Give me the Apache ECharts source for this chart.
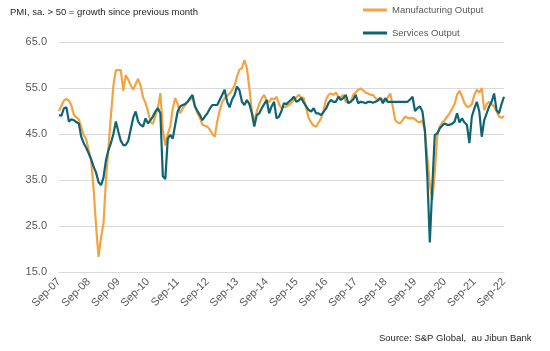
<!DOCTYPE html>
<html>
<head>
<meta charset="utf-8">
<script src="https://cdn.jsdelivr.net/npm/echarts@6/dist/echarts.min.js"></script>
<style>
  html, body { margin: 0; padding: 0; background: #fff; }
  #pmi { width: 550px; height: 351px; }
</style>
</head>
<body>
<div id="pmi"></div>
<script>
// monthly, Sep-07 .. Sep-22
const months = ["Jan", "Feb", "Mar", "Apr", "May", "Jun", "Jul", "Aug", "Sep", "Oct", "Nov", "Dec"];
const categories = [];
for (let k = 0; k < 181; k++) {
  const m = (8 + k) % 12;
  const y = 7 + Math.floor((8 + k) / 12);
  categories.push(months[m] + "-" + String(y).padStart(2, "0"));
}

const yTicks = [15, 25, 35, 45, 55, 65];

const manufacturing = [
  50.0, 51.2, 52.3, 52.6, 52.3, 51.2, 49.2, 48.6, 48.2, 46.5, 44.8, 43.8,
  41.5, 39.3, 33.0, 25.0, 18.3, 22.5, 25.6, 35.0, 42.0, 49.0, 55.5, 58.9,
  58.9, 58.9, 54.4, 57.8, 56.8, 55.6, 54.6, 55.8, 57.0, 55.5, 53.0, 51.7,
  50.0, 47.6, 47.2, 49.0, 50.6, 53.9, 46.0, 42.5, 45.0, 46.6, 50.5, 52.8,
  51.5, 49.5, 50.5, 51.3, 52.0, 52.5, 52.8, 51.0, 49.5, 48.5, 47.0, 46.8,
  46.6, 46.0, 45.0, 44.4, 47.7, 50.0, 52.0, 52.8, 53.3, 53.8, 54.5, 55.5,
  57.5, 59.0, 59.3, 61.1, 59.3, 55.0, 49.9, 47.7, 49.9, 51.5, 52.8, 53.5,
  52.2, 52.0, 52.8, 52.5, 53.1, 51.5, 50.6, 50.8, 51.0, 51.3, 51.8, 52.4,
  53.0, 53.5, 53.0, 52.8, 50.5, 48.5, 47.5, 46.8, 46.6, 47.5, 48.4, 50.0,
  52.5, 53.5, 53.8, 53.5, 54.0, 53.1, 53.0, 53.5, 52.0, 52.0, 52.0, 53.5,
  54.0, 54.6, 54.9, 54.5, 54.0, 53.8, 53.5, 53.5, 52.8, 52.4, 52.8, 52.4,
  52.0, 53.0, 53.8, 51.0, 48.0, 47.5, 47.3, 48.0, 48.8, 48.5, 48.4, 48.5,
  48.2, 47.7, 47.5, 48.0, 45.5, 40.0, 34.0, 30.7, 36.5, 44.5, 46.6, 47.5,
  48.0, 48.8, 49.5, 50.5, 51.5, 53.5, 54.4, 53.2, 51.7, 50.9, 51.0, 51.5,
  53.5, 54.6, 54.0, 55.0, 50.2, 51.5, 52.0, 51.5, 51.0, 49.9, 48.8, 48.5,
  48.9
];

const services = [
  49.1, 49.0, 50.6, 50.8, 47.7, 48.2, 48.0, 47.6, 47.3, 44.4, 43.0, 42.0,
  40.8, 39.5, 37.9, 36.6, 34.5, 33.9, 35.5, 39.3, 41.5, 43.0, 45.0, 47.7,
  45.5, 43.5, 42.6, 42.6, 43.5, 46.0, 48.5, 49.9, 47.7, 47.0, 46.6, 48.4,
  47.3, 48.0, 48.8, 49.9, 50.6, 49.5, 35.8, 35.2, 44.0, 44.8, 44.0, 47.0,
  49.9, 51.0, 51.3, 51.5, 52.0, 52.8, 53.5, 51.0, 50.0, 49.1, 48.0, 48.8,
  49.5, 50.5, 51.3, 51.3, 51.3, 52.4, 53.5, 54.6, 52.0, 50.8, 52.5, 53.5,
  55.3, 54.5, 52.0, 51.3, 52.4, 51.5, 49.5, 46.6, 49.1, 49.5, 50.6, 51.5,
  52.4, 49.5, 51.0, 52.0, 48.4, 48.8, 50.0, 51.7, 51.5, 52.0, 52.5, 53.1,
  52.0, 52.3, 52.8, 51.8, 51.0, 50.2, 49.9, 50.6, 49.5, 49.5, 49.1, 49.8,
  50.5, 51.7, 52.4, 52.0, 52.0, 53.1, 52.4, 52.8, 53.5, 51.7, 52.0, 52.5,
  53.5, 51.7, 52.0, 51.9, 51.7, 52.0, 52.0, 51.8, 52.0, 52.3, 52.8, 51.7,
  52.8, 52.0, 52.0, 52.0, 52.0, 52.0, 52.0, 52.0, 52.0, 52.0, 52.5, 53.1,
  50.0, 50.6, 51.0, 49.9, 45.8, 35.5, 21.4, 33.6, 44.8, 45.1, 46.2, 46.8,
  47.3, 47.0, 47.0, 47.2, 47.7, 49.5, 47.5, 48.4, 47.5, 47.0, 43.0, 48.8,
  50.5, 52.0, 49.9, 44.4, 48.0, 49.5, 51.0, 52.0, 53.8, 50.2, 49.5, 51.5,
  53.1
];

const chartDom = document.getElementById("pmi");
const myChart = echarts.init(chartDom);

const font = "Liberation Sans, Arial, sans-serif";
const small = { fontFamily: font, fontSize: 9.5, fontWeight: "normal" };
const axisTxt = { fontFamily: font, fontSize: 11, color: "#595959" };

const option = {
  animation: false,
  title: [
    {
      text: "PMI, sa. > 50 = growth since previous month",
      left: 10,
      top: 7,
      padding: 0,
      textStyle: { ...small, color: "#262626" },
    },
    {
      text: "Source: S&P Global,  au Jibun Bank",
      left: 379,
      top: 333,
      padding: 0,
      textStyle: { ...small, color: "#262626" },
    },
  ],
  legend: {
    orient: "vertical",
    left: 363,
    top: 5,
    padding: 0,
    itemGap: 13,
    itemWidth: 24,
    itemHeight: 3,
    icon: "rect",
    textStyle: { ...small, color: "#595959" },
    data: ["Manufacturing Output", "Services Output"],
  },
  grid: {
    left: 59,
    right: 46,
    top: 42,
    bottom: 79,
  },
  xAxis: {
    type: "category",
    data: categories,
    boundaryGap: false,
    axisLine: { lineStyle: { color: "#d9d9d9", width: 1 } },
    axisTick: { show: false },
    axisLabel: {
      ...axisTxt,
      interval: 11,
      rotate: 45,
      margin: 8,
    },
  },
  yAxis: {
    type: "value",
    min: yTicks[0],
    max: yTicks[yTicks.length - 1],
    interval: 10,
    axisLine: { show: false },
    axisTick: { show: false },
    axisLabel: {
      ...axisTxt,
      margin: 12,
      formatter: (v) => v.toFixed(1),
    },
    splitLine: { lineStyle: { color: "#d9d9d9", width: 1 } },
  },
  series: [
    {
      name: "Manufacturing Output",
      type: "line",
      data: manufacturing,
      showSymbol: false,
      color: "#f4a340",
      lineStyle: { width: 2.2, color: "#f4a340" },
    },
    {
      name: "Services Output",
      type: "line",
      data: services,
      showSymbol: false,
      color: "#0f6474",
      lineStyle: { width: 2.2, color: "#0f6474" },
    },
  ],
};

option && myChart.setOption(option);
</script>
</body>
</html>
